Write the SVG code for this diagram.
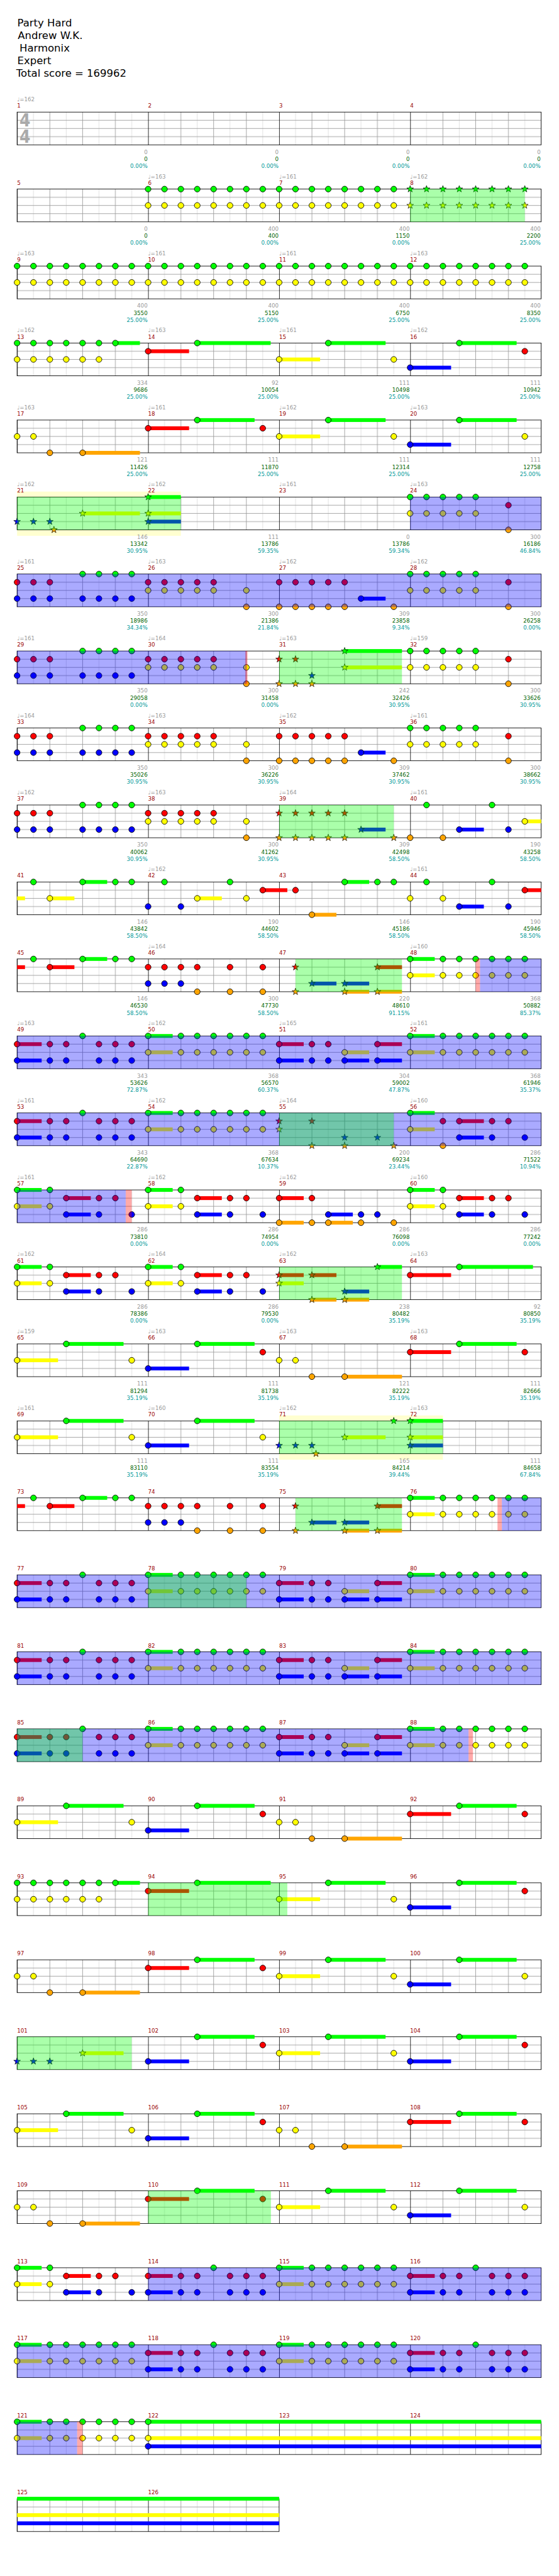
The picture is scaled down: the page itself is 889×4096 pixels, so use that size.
<svg xmlns="http://www.w3.org/2000/svg" width="889" height="4096" viewBox="0 0 889 4096">
<style>
text{font-family:"DejaVu Sans",sans-serif;font-size:10px}
.h{font-size:19px;fill:#000}
.t{fill:#999}
.n{fill:#900}
.a,.b,.c{text-anchor:end}
.a{fill:#999}.b{fill:#006400}.c{fill:#099}
.ts{font-family:"DejaVu Sans Condensed","DejaVu Sans",sans-serif;font-size:32px;font-weight:bold;fill:#aaa}
.sf{fill:url(#gd);stroke:#000}
.sG{fill:#0f0}.sR{fill:#f00}.sY{fill:#ff0}.sB{fill:#00f}.sO{fill:#ffa500}
.ob{fill:#00f;fill-opacity:.333}.og{fill:#0f0;fill-opacity:.333}.op{fill:#f00;fill-opacity:.333}.yb{fill:#ffffd0}
</style>
<defs>
<pattern id="gd" patternUnits="userSpaceOnUse" width="240" height="60">
<rect width="240" height="60" fill="#fff"/>
<path d="M30 0V60M90 0V60M150 0V60M210 0V60" stroke="#ddd"/>
<path d="M60 0V60M120 0V60M180 0V60M0 15H240M0 30H240M0 45H240" stroke="#999"/>
<path d="M.5 0V60" stroke="#000"/>
</pattern>
<circle id="n" r="5.3" stroke="#000"/>
<use id="G" href="#n" fill="#0f0"/>
<use id="R" href="#n" y="15" fill="#f00"/>
<use id="Y" href="#n" y="30" fill="#ff0"/>
<use id="B" href="#n" y="45" fill="#00f"/>
<use id="O" href="#n" y="60" fill="#ffa500"/>
<path id="s" d="M0-6.5 1.53-2.1 6.18-2.01 2.47.8 3.82 5.26 0 2.6-3.82 5.26-2.47.8-6.18-2.01-1.53-2.1Z" stroke="#000" stroke-width=".8"/>
<use id="g" href="#s" fill="#0f0"/>
<use id="r" href="#s" y="15" fill="#f00"/>
<use id="y" href="#s" y="30" fill="#ff0"/>
<use id="b" href="#s" y="45" fill="#00f"/>
<use id="o" href="#s" y="60" fill="#ffa500"/>
<g id="e3"><use href="#n"/><use href="#n" x="30"/><use href="#n" x="60"/></g>
<g id="e4"><use href="#e3"/><use href="#n" x="90"/></g>
<g id="e5"><use href="#e4"/><use href="#n" x="120"/></g>
<g id="e6"><use href="#e5"/><use href="#n" x="150"/></g>
<g id="e7"><use href="#e6"/><use href="#n" x="180"/></g>
<g id="e8"><use href="#e7"/><use href="#n" x="210"/></g>
<g id="s5"><use href="#s"/><use href="#s" x="30"/><use href="#s" x="60"/><use href="#s" x="90"/><use href="#s" x="120"/></g>
<g id="s8"><use href="#s5"/><use href="#s" x="150"/><use href="#s" x="180"/><use href="#s" x="210"/></g>
<g id="mA"><use href="#e3" y="15" fill="#f00"/><use href="#e3" y="45" fill="#00f"/><use href="#e4" x="120" fill="#0f0"/><use href="#e4" x="120" y="45" fill="#00f"/></g>
<g id="mB"><use href="#e5" y="15" fill="#f00"/><use href="#e5" y="30" fill="#ff0"/><use href="#Y" x="180"/><use href="#O" x="180"/></g>
<g id="mC"><use href="#e5" y="15" fill="#f00"/><use href="#e5" y="60" fill="#ffa500"/><rect class="sB" x="150" y="41.5" width="45" height="7"/><use href="#B" x="150"/><use href="#O" x="210"/></g>
<g id="mD"><use href="#e5" fill="#0f0"/><use href="#e5" y="30" fill="#ff0"/><use href="#R" x="180"/><use href="#O" x="180"/></g>
<g id="mE"><rect class="sR" y="11.5" width="45" height="7"/><rect class="sB" y="41.5" width="45" height="7"/><use href="#R"/><use href="#B"/><use href="#R" x="60"/><use href="#R" x="90"/><use href="#B" x="60"/><use href="#B" x="90"/><use href="#G" x="120"/><use href="#e3" x="150" y="15" fill="#f00"/><use href="#e3" x="150" y="45" fill="#00f"/></g>
<g id="mF"><rect class="sG" y="-3.5" width="45" height="7"/><rect class="sY" y="26.5" width="45" height="7"/><use href="#G"/><use href="#Y"/><use href="#e6" x="60" fill="#0f0"/><use href="#e6" x="60" y="30" fill="#ff0"/></g>
<g id="mG"><rect class="sG" y="-3.5" width="45" height="7"/><rect class="sY" y="26.5" width="45" height="7"/><rect class="sR" x="90" y="11.5" width="45" height="7"/><rect class="sB" x="90" y="41.5" width="45" height="7"/><use href="#G"/><use href="#G" x="60"/><use href="#Y"/><use href="#Y" x="60"/><use href="#R" x="90"/><use href="#R" x="150"/><use href="#R" x="180"/><use href="#B" x="90"/><use href="#B" x="150"/><use href="#B" x="210"/></g>
<g id="mH"><use href="#e8" fill="#0f0"/><use href="#e8" y="30" fill="#ff0"/></g>
<g id="mS"><use href="#s8" fill="#0f0"/><use href="#s8" y="30" fill="#ff0"/></g>
<g id="mI"><rect class="sY" y="26.5" width="75" height="7"/><use href="#Y"/><rect class="sG" x="90" y="-3.5" width="105" height="7"/><use href="#G" x="90"/><use href="#Y" x="210"/></g>
<g id="mJ"><rect class="sB" y="41.5" width="75" height="7"/><use href="#B"/><rect class="sG" x="90" y="-3.5" width="105" height="7"/><use href="#G" x="90"/></g>
<g id="q3">
<rect class="sG" x="180" y="-3.5" width="45" height="7"/><use href="#e7" fill="#0f0"/><use href="#e6" y="30" fill="#ff0"/>
<rect class="sR" x="240" y="11.5" width="75" height="7"/><use href="#R" x="240"/>
<rect class="sG" x="330" y="-3.5" width="134.5" height="7"/><use href="#G" x="330"/>
<use href="#mI" x="480"/><use href="#mJ" x="720"/><use href="#R" x="930"/>
</g>
<g id="q4">
<use href="#Y"/><use href="#Y" x="30"/><use href="#O" x="60"/>
<rect class="sO" x="120" y="56.5" width="105" height="7"/><use href="#O" x="120"/>
<rect class="sR" x="240" y="11.5" width="75" height="7"/><use href="#R" x="240"/>
<rect class="sG" x="330" y="-3.5" width="105" height="7"/><use href="#G" x="330"/><use href="#R" x="450"/>
<use href="#mI" x="480"/><use href="#mJ" x="720"/><use href="#Y" x="930"/>
</g>
<g id="q11">
<rect class="sR" y="11.5" width="14.5" height="7"/><use href="#G" x="30"/><rect class="sR" x="60" y="11.5" width="45" height="7"/><use href="#R" x="60"/><rect class="sG" x="120" y="-3.5" width="45" height="7"/><use href="#G" x="120"/><use href="#G" x="180"/><use href="#G" x="210"/>
<use href="#e4" x="240" y="15" fill="#f00"/><use href="#R" x="390"/><use href="#R" x="450"/><use href="#e3" x="240" y="45" fill="#00f"/><use href="#O" x="330"/><use href="#O" x="390"/><use href="#O" x="450"/>
<use href="#r" x="510"/><use href="#o" x="510"/><rect class="sB" x="540" y="41.5" width="45" height="7"/><use href="#b" x="540"/><rect class="sB" x="600" y="41.5" width="45" height="7"/><rect class="sO" x="600" y="56.5" width="45" height="7"/><use href="#b" x="600"/><use href="#o" x="600"/><rect class="sR" x="660" y="11.5" width="45" height="7"/><rect class="sO" x="660" y="56.5" width="45" height="7"/><use href="#r" x="660"/><use href="#o" x="660"/>
<use href="#mF" x="720"/>
</g>
<g id="q12">
<use href="#mE"/><use href="#mF" x="240"/>
<rect class="sR" x="480" y="11.5" width="45" height="7"/><rect class="sB" x="480" y="41.5" width="45" height="7"/><use href="#R" x="480"/><use href="#B" x="480"/><use href="#R" x="540"/><use href="#R" x="570"/><use href="#B" x="540"/><use href="#B" x="570"/><rect class="sY" x="600" y="26.5" width="45" height="7"/><rect class="sB" x="600" y="41.5" width="45" height="7"/><use href="#Y" x="600"/><use href="#B" x="600"/><rect class="sR" x="660" y="11.5" width="45" height="7"/><rect class="sB" x="660" y="41.5" width="45" height="7"/><use href="#R" x="660"/><use href="#B" x="660"/>
<use href="#mF" x="720"/>
</g>
<g id="q16">
<use href="#mI"/><use href="#mJ" x="240"/><use href="#R" x="450"/>
<use href="#Y" x="480"/><use href="#Y" x="510"/><use href="#O" x="540"/><rect class="sO" x="600" y="56.5" width="105" height="7"/><use href="#O" x="600"/>
<rect class="sR" x="720" y="11.5" width="75" height="7"/><use href="#R" x="720"/><rect class="sG" x="810" y="-3.5" width="105" height="7"/><use href="#G" x="810"/><use href="#R" x="930"/>
</g>
</defs>
<rect width="889" height="4096" fill="#fff"/>
<g transform="scale(.8682)">
<g id="title" class="h">
<text class="h" x="31.7" y="48">Party Hard</text>
<text class="h" x="32.5" y="71.7">Andrew W.K.</text>
<text class="h" x="35.7" y="95">Harmonix</text>
<text class="h" x="31.7" y="118">Expert</text>
<text class="h" x="29.7" y="140.7">Total score = 169962</text>
</g>

<g id="r0" transform="translate(31.3 205.3)">
<rect class="sf" width="960" height="60"/>
<text class="ts" x="4.4" y="26.7">4</text><text class="ts" x="4.4" y="56.7">4</text>
<text class="t" x="0" y="-19.6">♩=162</text>
<text class="n" y="-8"><tspan x="0">1</tspan><tspan x="240">2</tspan><tspan x="480">3</tspan><tspan x="720">4</tspan></text>
<text class="a" y="76.4"><tspan x="239">0</tspan><tspan x="479">0</tspan><tspan x="719">0</tspan><tspan x="959">0</tspan></text>
<text class="b" y="89.4"><tspan x="239">0</tspan><tspan x="479">0</tspan><tspan x="719">0</tspan><tspan x="959">0</tspan></text>
<text class="c" y="102.2"><tspan x="239">0.00%</tspan><tspan x="479">0.00%</tspan><tspan x="719">0.00%</tspan><tspan x="959">0.00%</tspan></text>
</g>

<g id="r1" transform="translate(31.3 346.3)">
<rect class="sf" width="960" height="60"/>
<use href="#mH" x="240"/><use href="#mH" x="480"/><use href="#mS" x="720"/>
<rect class="og" x="720" width="210" height="60"/>
<text class="t" y="-19.6"><tspan x="240">♩=163</tspan><tspan x="480">♩=161</tspan><tspan x="720">♩=162</tspan></text>
<text class="n" y="-8"><tspan x="0">5</tspan><tspan x="240">6</tspan><tspan x="480">7</tspan><tspan x="720">8</tspan></text>
<text class="a" y="76.4"><tspan x="239">0</tspan><tspan x="479">400</tspan><tspan x="719">400</tspan><tspan x="959">400</tspan></text>
<text class="b" y="89.4"><tspan x="239">0</tspan><tspan x="479">400</tspan><tspan x="719">1150</tspan><tspan x="959">2200</tspan></text>
<text class="c" y="102.2"><tspan x="239">0.00%</tspan><tspan x="479">0.00%</tspan><tspan x="719">0.00%</tspan><tspan x="959">25.00%</tspan></text>
</g>

<g id="r2" transform="translate(31.3 487.3)">
<rect class="sf" width="960" height="60"/>
<use href="#mH"/><use href="#mH" x="240"/><use href="#mH" x="480"/><use href="#mH" x="720"/>
<text class="t" y="-19.6"><tspan x="0">♩=163</tspan><tspan x="240">♩=161</tspan><tspan x="480">♩=161</tspan><tspan x="720">♩=163</tspan></text>
<text class="n" y="-8"><tspan x="0">9</tspan><tspan x="240">10</tspan><tspan x="480">11</tspan><tspan x="720">12</tspan></text>
<text class="a" y="76.4"><tspan x="239">400</tspan><tspan x="479">400</tspan><tspan x="719">400</tspan><tspan x="959">400</tspan></text>
<text class="b" y="89.4"><tspan x="239">3550</tspan><tspan x="479">5150</tspan><tspan x="719">6750</tspan><tspan x="959">8350</tspan></text>
<text class="c" y="102.2"><tspan x="239">25.00%</tspan><tspan x="479">25.00%</tspan><tspan x="719">25.00%</tspan><tspan x="959">25.00%</tspan></text>
</g>

<g id="r3" transform="translate(31.3 628.3)">
<rect class="sf" width="960" height="60"/>
<use href="#q3"/>
<text class="t" y="-19.6"><tspan x="0">♩=162</tspan><tspan x="240">♩=163</tspan><tspan x="480">♩=161</tspan><tspan x="720">♩=162</tspan></text>
<text class="n" y="-8"><tspan x="0">13</tspan><tspan x="240">14</tspan><tspan x="480">15</tspan><tspan x="720">16</tspan></text>
<text class="a" y="76.4"><tspan x="239">334</tspan><tspan x="479">92</tspan><tspan x="719">111</tspan><tspan x="959">111</tspan></text>
<text class="b" y="89.4"><tspan x="239">9686</tspan><tspan x="479">10054</tspan><tspan x="719">10498</tspan><tspan x="959">10942</tspan></text>
<text class="c" y="102.2"><tspan x="239">25.00%</tspan><tspan x="479">25.00%</tspan><tspan x="719">25.00%</tspan><tspan x="959">25.00%</tspan></text>
</g>

<g id="r4" transform="translate(31.3 769.3)">
<rect class="sf" width="960" height="60"/>
<use href="#q4"/>
<text class="t" y="-19.6"><tspan x="0">♩=163</tspan><tspan x="240">♩=161</tspan><tspan x="480">♩=162</tspan><tspan x="720">♩=163</tspan></text>
<text class="n" y="-8"><tspan x="0">17</tspan><tspan x="240">18</tspan><tspan x="480">19</tspan><tspan x="720">20</tspan></text>
<text class="a" y="76.4"><tspan x="239">121</tspan><tspan x="479">111</tspan><tspan x="719">111</tspan><tspan x="959">111</tspan></text>
<text class="b" y="89.4"><tspan x="239">11426</tspan><tspan x="479">11870</tspan><tspan x="719">12314</tspan><tspan x="959">12758</tspan></text>
<text class="c" y="102.2"><tspan x="239">25.00%</tspan><tspan x="479">25.00%</tspan><tspan x="719">25.00%</tspan><tspan x="959">25.00%</tspan></text>
</g>

<g id="r5" transform="translate(31.3 910.3)">
<rect class="yb" y="-10" width="300" height="81"/>
<rect class="sf" width="960" height="60"/>
<use href="#b"/><use href="#b" x="30"/><use href="#b" x="60"/><use href="#o" x="67.5"/>
<rect class="sY" x="120" y="26.5" width="105" height="7"/><use href="#y" x="120"/>
<rect class="sG" x="240" y="-3.5" width="60" height="7"/><rect class="sY" x="240" y="26.5" width="60" height="7"/><rect class="sB" x="240" y="41.5" width="60" height="7"/><use href="#g" x="240"/><use href="#y" x="240"/><use href="#b" x="240"/>
<use href="#mD" x="720"/>
<rect class="og" width="300" height="60"/><rect class="ob" x="720" width="240" height="60"/>
<text class="t" y="-19.6"><tspan x="0">♩=162</tspan><tspan x="240">♩=162</tspan><tspan x="480">♩=161</tspan><tspan x="720">♩=163</tspan></text>
<text class="n" y="-8"><tspan x="0">21</tspan><tspan x="240">22</tspan><tspan x="480">23</tspan><tspan x="720">24</tspan></text>
<text class="a" y="76.4"><tspan x="239">146</tspan><tspan x="479">111</tspan><tspan x="719">0</tspan><tspan x="959">300</tspan></text>
<text class="b" y="89.4"><tspan x="239">13342</tspan><tspan x="479">13786</tspan><tspan x="719">13786</tspan><tspan x="959">16186</tspan></text>
<text class="c" y="102.2"><tspan x="239">30.95%</tspan><tspan x="479">59.35%</tspan><tspan x="719">59.34%</tspan><tspan x="959">46.84%</tspan></text>
</g>

<g id="r6" transform="translate(31.3 1051.3)">
<rect class="sf" width="960" height="60"/>
<use href="#mA"/><use href="#mB" x="240"/><use href="#mC" x="480"/><use href="#mD" x="720"/>
<rect class="ob" width="960" height="60"/>
<text class="t" y="-19.6"><tspan x="0">♩=161</tspan><tspan x="240">♩=163</tspan><tspan x="480">♩=162</tspan><tspan x="720">♩=162</tspan></text>
<text class="n" y="-8"><tspan x="0">25</tspan><tspan x="240">26</tspan><tspan x="480">27</tspan><tspan x="720">28</tspan></text>
<text class="a" y="76.4"><tspan x="239">350</tspan><tspan x="479">300</tspan><tspan x="719">309</tspan><tspan x="959">300</tspan></text>
<text class="b" y="89.4"><tspan x="239">18986</tspan><tspan x="479">21386</tspan><tspan x="719">23858</tspan><tspan x="959">26258</tspan></text>
<text class="c" y="102.2"><tspan x="239">34.34%</tspan><tspan x="479">21.84%</tspan><tspan x="719">9.34%</tspan><tspan x="959">0.00%</tspan></text>
</g>

<g id="r7" transform="translate(31.3 1192.3)">
<rect class="sf" width="960" height="60"/>
<use href="#mA"/><use href="#mB" x="240"/>
<use href="#r" x="480"/><use href="#r" x="510"/><use href="#o" x="480"/><use href="#o" x="510"/><use href="#o" x="540"/><use href="#b" x="540"/>
<rect class="sG" x="600" y="-3.5" width="105" height="7"/><rect class="sY" x="600" y="26.5" width="105" height="7"/><use href="#g" x="600"/><use href="#y" x="600"/>
<use href="#mD" x="720"/>
<rect class="ob" width="420" height="60"/><rect class="op" x="418" width="4" height="60"/><rect class="og" x="480" width="225" height="60"/>
<text class="t" y="-19.6"><tspan x="0">♩=161</tspan><tspan x="240">♩=164</tspan><tspan x="480">♩=163</tspan><tspan x="720">♩=159</tspan></text>
<text class="n" y="-8"><tspan x="0">29</tspan><tspan x="240">30</tspan><tspan x="480">31</tspan><tspan x="720">32</tspan></text>
<text class="a" y="76.4"><tspan x="239">350</tspan><tspan x="479">300</tspan><tspan x="719">242</tspan><tspan x="959">300</tspan></text>
<text class="b" y="89.4"><tspan x="239">29058</tspan><tspan x="479">31458</tspan><tspan x="719">32426</tspan><tspan x="959">33626</tspan></text>
<text class="c" y="102.2"><tspan x="239">0.00%</tspan><tspan x="479">0.00%</tspan><tspan x="719">30.95%</tspan><tspan x="959">30.95%</tspan></text>
</g>

<g id="r8" transform="translate(31.3 1333.3)">
<rect class="sf" width="960" height="60"/>
<use href="#mA"/><use href="#mB" x="240"/><use href="#mC" x="480"/><use href="#mD" x="720"/>
<text class="t" y="-19.6"><tspan x="0">♩=164</tspan><tspan x="240">♩=163</tspan><tspan x="480">♩=162</tspan><tspan x="720">♩=161</tspan></text>
<text class="n" y="-8"><tspan x="0">33</tspan><tspan x="240">34</tspan><tspan x="480">35</tspan><tspan x="720">36</tspan></text>
<text class="a" y="76.4"><tspan x="239">350</tspan><tspan x="479">300</tspan><tspan x="719">309</tspan><tspan x="959">300</tspan></text>
<text class="b" y="89.4"><tspan x="239">35026</tspan><tspan x="479">36226</tspan><tspan x="719">37462</tspan><tspan x="959">38662</tspan></text>
<text class="c" y="102.2"><tspan x="239">30.95%</tspan><tspan x="479">30.95%</tspan><tspan x="719">30.95%</tspan><tspan x="959">30.95%</tspan></text>
</g>

<g id="r9" transform="translate(31.3 1474.3)">
<rect class="sf" width="960" height="60"/>
<use href="#mA"/><use href="#mB" x="240"/>
<use href="#s5" x="480" y="15" fill="#f00"/><use href="#s5" x="480" y="60" fill="#ffa500"/><rect class="sB" x="630" y="41.5" width="45" height="7"/><use href="#b" x="630"/><use href="#o" x="690"/>
<use href="#O" x="720"/><use href="#O" x="780"/><use href="#G" x="750"/><use href="#G" x="870"/><rect class="sB" x="810" y="41.5" width="45" height="7"/><use href="#B" x="810"/><use href="#B" x="900"/><rect class="sY" x="930" y="26.5" width="30" height="7"/><use href="#Y" x="930"/>
<rect class="og" x="480" width="210" height="60"/>
<text class="t" y="-19.6"><tspan x="0">♩=162</tspan><tspan x="240">♩=163</tspan><tspan x="480">♩=164</tspan><tspan x="720">♩=161</tspan></text>
<text class="n" y="-8"><tspan x="0">37</tspan><tspan x="240">38</tspan><tspan x="480">39</tspan><tspan x="720">40</tspan></text>
<text class="a" y="76.4"><tspan x="239">350</tspan><tspan x="479">300</tspan><tspan x="719">309</tspan><tspan x="959">190</tspan></text>
<text class="b" y="89.4"><tspan x="239">40062</tspan><tspan x="479">41262</tspan><tspan x="719">42498</tspan><tspan x="959">43258</tspan></text>
<text class="c" y="102.2"><tspan x="239">30.95%</tspan><tspan x="479">30.95%</tspan><tspan x="719">58.50%</tspan><tspan x="959">58.50%</tspan></text>
</g>

<g id="r10" transform="translate(31.3 1615.3)">
<rect class="sf" width="960" height="60"/>
<rect class="sY" y="26.5" width="14.5" height="7"/><use href="#G" x="30"/><rect class="sY" x="60" y="26.5" width="45" height="7"/><use href="#Y" x="60"/><rect class="sG" x="120" y="-3.5" width="45" height="7"/><use href="#G" x="120"/><use href="#G" x="180"/><use href="#G" x="210"/>
<use href="#B" x="240"/><use href="#B" x="300"/><use href="#G" x="270"/><rect class="sY" x="330" y="26.5" width="45" height="7"/><use href="#Y" x="330"/><use href="#G" x="390"/><use href="#Y" x="420"/><rect class="sR" x="450" y="11.5" width="45" height="7"/><use href="#R" x="450"/>
<use href="#R" x="510"/><rect class="sO" x="540" y="56.5" width="45" height="7"/><use href="#O" x="540"/><rect class="sG" x="600" y="-3.5" width="45" height="7"/><use href="#G" x="600"/><use href="#G" x="660"/><use href="#G" x="690"/>
<use href="#Y" x="720"/><use href="#Y" x="780"/><use href="#G" x="750"/><use href="#G" x="870"/><rect class="sB" x="810" y="41.5" width="45" height="7"/><use href="#B" x="810"/><use href="#B" x="900"/><rect class="sR" x="930" y="11.5" width="30" height="7"/><use href="#R" x="930"/>
<text class="t" y="-19.6"><tspan x="240">♩=162</tspan><tspan x="720">♩=161</tspan></text>
<text class="n" y="-8"><tspan x="0">41</tspan><tspan x="240">42</tspan><tspan x="480">43</tspan><tspan x="720">44</tspan></text>
<text class="a" y="76.4"><tspan x="239">146</tspan><tspan x="479">190</tspan><tspan x="719">146</tspan><tspan x="959">190</tspan></text>
<text class="b" y="89.4"><tspan x="239">43842</tspan><tspan x="479">44602</tspan><tspan x="719">45186</tspan><tspan x="959">45946</tspan></text>
<text class="c" y="102.2"><tspan x="239">58.50%</tspan><tspan x="479">58.50%</tspan><tspan x="719">58.50%</tspan><tspan x="959">58.50%</tspan></text>
</g>

<g id="r11" transform="translate(31.3 1756.3)">
<rect class="sf" width="960" height="60"/>
<use href="#q11"/>
<rect class="og" x="510" width="195" height="60"/><rect class="op" x="840" width="8" height="60"/><rect class="ob" x="848" width="112" height="60"/>
<text class="t" y="-19.6"><tspan x="240">♩=164</tspan><tspan x="720">♩=160</tspan></text>
<text class="n" y="-8"><tspan x="0">45</tspan><tspan x="240">46</tspan><tspan x="480">47</tspan><tspan x="720">48</tspan></text>
<text class="a" y="76.4"><tspan x="239">146</tspan><tspan x="479">300</tspan><tspan x="719">220</tspan><tspan x="959">368</tspan></text>
<text class="b" y="89.4"><tspan x="239">46530</tspan><tspan x="479">47730</tspan><tspan x="719">48610</tspan><tspan x="959">50882</tspan></text>
<text class="c" y="102.2"><tspan x="239">58.50%</tspan><tspan x="479">58.50%</tspan><tspan x="719">91.15%</tspan><tspan x="959">85.37%</tspan></text>
</g>

<g id="r12" transform="translate(31.3 1897.3)">
<rect class="sf" width="960" height="60"/>
<use href="#q12"/>
<rect class="ob" width="960" height="60"/>
<text class="t" y="-19.6"><tspan x="0">♩=163</tspan><tspan x="240">♩=162</tspan><tspan x="480">♩=165</tspan><tspan x="720">♩=161</tspan></text>
<text class="n" y="-8"><tspan x="0">49</tspan><tspan x="240">50</tspan><tspan x="480">51</tspan><tspan x="720">52</tspan></text>
<text class="a" y="76.4"><tspan x="239">343</tspan><tspan x="479">368</tspan><tspan x="719">304</tspan><tspan x="959">368</tspan></text>
<text class="b" y="89.4"><tspan x="239">53626</tspan><tspan x="479">56570</tspan><tspan x="719">59002</tspan><tspan x="959">61946</tspan></text>
<text class="c" y="102.2"><tspan x="239">72.87%</tspan><tspan x="479">60.37%</tspan><tspan x="719">47.87%</tspan><tspan x="959">35.37%</tspan></text>
</g>

<g id="r13" transform="translate(31.3 2038.3)">
<rect class="sf" width="960" height="60"/>
<use href="#mE"/><use href="#mF" x="240"/>
<use href="#r" x="480"/><use href="#r" x="540"/><use href="#y" x="480"/><use href="#b" x="600"/><use href="#b" x="660"/><use href="#o" x="540"/><use href="#o" x="600"/><use href="#o" x="690"/>
<rect class="sG" x="720" y="-3.5" width="45" height="7"/><rect class="sY" x="720" y="26.5" width="45" height="7"/><use href="#G" x="720"/><use href="#Y" x="720"/><use href="#R" x="780"/><rect class="sR" x="810" y="11.5" width="45" height="7"/><rect class="sB" x="810" y="41.5" width="45" height="7"/><use href="#R" x="810"/><use href="#B" x="810"/><use href="#R" x="870"/><use href="#R" x="900"/><use href="#B" x="870"/><use href="#B" x="930"/><use href="#O" x="780"/>
<rect class="ob" width="960" height="60"/><rect class="og" x="480" width="210" height="60"/>
<text class="t" y="-19.6"><tspan x="0">♩=161</tspan><tspan x="240">♩=162</tspan><tspan x="480">♩=164</tspan><tspan x="720">♩=160</tspan></text>
<text class="n" y="-8"><tspan x="0">53</tspan><tspan x="240">54</tspan><tspan x="480">55</tspan><tspan x="720">56</tspan></text>
<text class="a" y="76.4"><tspan x="239">343</tspan><tspan x="479">368</tspan><tspan x="719">200</tspan><tspan x="959">286</tspan></text>
<text class="b" y="89.4"><tspan x="239">64690</tspan><tspan x="479">67634</tspan><tspan x="719">69234</tspan><tspan x="959">71522</tspan></text>
<text class="c" y="102.2"><tspan x="239">22.87%</tspan><tspan x="479">10.37%</tspan><tspan x="719">23.44%</tspan><tspan x="959">10.94%</tspan></text>
</g>

<g id="r14" transform="translate(31.3 2179.3)">
<rect class="sf" width="960" height="60"/>
<use href="#mG"/><use href="#mG" x="240"/>
<rect class="sR" x="480" y="11.5" width="45" height="7"/><rect class="sO" x="480" y="56.5" width="45" height="7"/><use href="#R" x="480"/><use href="#O" x="480"/><use href="#R" x="540"/><use href="#O" x="540"/><rect class="sB" x="570" y="41.5" width="45" height="7"/><rect class="sO" x="570" y="56.5" width="45" height="7"/><use href="#B" x="570"/><use href="#O" x="570"/><use href="#B" x="630"/><use href="#B" x="660"/><use href="#O" x="630"/><use href="#O" x="690"/>
<use href="#mG" x="720"/>
<rect class="ob" width="199" height="60"/><rect class="op" x="199" width="11" height="60"/>
<text class="t" y="-19.6"><tspan x="0">♩=161</tspan><tspan x="240">♩=162</tspan><tspan x="480">♩=162</tspan><tspan x="720">♩=160</tspan></text>
<text class="n" y="-8"><tspan x="0">57</tspan><tspan x="240">58</tspan><tspan x="480">59</tspan><tspan x="720">60</tspan></text>
<text class="a" y="76.4"><tspan x="239">286</tspan><tspan x="479">286</tspan><tspan x="719">286</tspan><tspan x="959">286</tspan></text>
<text class="b" y="89.4"><tspan x="239">73810</tspan><tspan x="479">74954</tspan><tspan x="719">76098</tspan><tspan x="959">77242</tspan></text>
<text class="c" y="102.2"><tspan x="239">0.00%</tspan><tspan x="479">0.00%</tspan><tspan x="719">0.00%</tspan><tspan x="959">0.00%</tspan></text>
</g>

<g id="r15" transform="translate(31.3 2320.3)">
<rect class="sf" width="960" height="60"/>
<use href="#mG"/><use href="#mG" x="240"/>
<rect class="sR" x="480" y="11.5" width="45" height="7"/><rect class="sY" x="480" y="26.5" width="45" height="7"/><use href="#r" x="480"/><use href="#y" x="480"/><rect class="sR" x="540" y="11.5" width="45" height="7"/><rect class="sO" x="540" y="56.5" width="45" height="7"/><use href="#r" x="540"/><use href="#o" x="540"/><rect class="sB" x="600" y="41.5" width="45" height="7"/><rect class="sO" x="600" y="56.5" width="45" height="7"/><use href="#b" x="600"/><use href="#o" x="600"/><rect class="sG" x="660" y="-3.5" width="45" height="7"/><use href="#g" x="660"/>
<rect class="sR" x="720" y="11.5" width="75" height="7"/><use href="#R" x="720"/><rect class="sG" x="810" y="-3.5" width="135" height="7"/><use href="#G" x="810"/>
<rect class="og" x="480" width="225" height="60"/>
<text class="t" y="-19.6"><tspan x="0">♩=162</tspan><tspan x="240">♩=164</tspan><tspan x="480">♩=162</tspan><tspan x="720">♩=163</tspan></text>
<text class="n" y="-8"><tspan x="0">61</tspan><tspan x="240">62</tspan><tspan x="480">63</tspan><tspan x="720">64</tspan></text>
<text class="a" y="76.4"><tspan x="239">286</tspan><tspan x="479">286</tspan><tspan x="719">238</tspan><tspan x="959">92</tspan></text>
<text class="b" y="89.4"><tspan x="239">78386</tspan><tspan x="479">79530</tspan><tspan x="719">80482</tspan><tspan x="959">80850</tspan></text>
<text class="c" y="102.2"><tspan x="239">0.00%</tspan><tspan x="479">0.00%</tspan><tspan x="719">35.19%</tspan><tspan x="959">35.19%</tspan></text>
</g>

<g id="r16" transform="translate(31.3 2461.3)">
<rect class="sf" width="960" height="60"/>
<use href="#q16"/>
<text class="t" y="-19.6"><tspan x="0">♩=159</tspan><tspan x="240">♩=163</tspan><tspan x="480">♩=163</tspan><tspan x="720">♩=163</tspan></text>
<text class="n" y="-8"><tspan x="0">65</tspan><tspan x="240">66</tspan><tspan x="480">67</tspan><tspan x="720">68</tspan></text>
<text class="a" y="76.4"><tspan x="239">111</tspan><tspan x="479">111</tspan><tspan x="719">121</tspan><tspan x="959">111</tspan></text>
<text class="b" y="89.4"><tspan x="239">81294</tspan><tspan x="479">81738</tspan><tspan x="719">82222</tspan><tspan x="959">82666</tspan></text>
<text class="c" y="102.2"><tspan x="239">35.19%</tspan><tspan x="479">35.19%</tspan><tspan x="719">35.19%</tspan><tspan x="959">35.19%</tspan></text>
</g>

<g id="r17" transform="translate(31.3 2602.3)">
<rect class="yb" x="480" y="-10" width="300" height="81"/>
<rect class="sf" width="960" height="60"/>
<use href="#mI"/><use href="#mJ" x="240"/><use href="#Y" x="450"/>
<use href="#b" x="480"/><use href="#b" x="510"/><use href="#b" x="540"/><use href="#o" x="547.5"/><rect class="sY" x="600" y="26.5" width="75" height="7"/><use href="#y" x="600"/><use href="#g" x="690"/>
<rect class="sG" x="720" y="-3.5" width="60" height="7"/><rect class="sY" x="720" y="26.5" width="60" height="7"/><rect class="sB" x="720" y="41.5" width="60" height="7"/><use href="#g" x="720"/><use href="#y" x="720"/><use href="#b" x="720"/>
<rect class="og" x="480" width="300" height="60"/>
<text class="t" y="-19.6"><tspan x="0">♩=161</tspan><tspan x="240">♩=160</tspan><tspan x="480">♩=162</tspan><tspan x="720">♩=163</tspan></text>
<text class="n" y="-8"><tspan x="0">69</tspan><tspan x="240">70</tspan><tspan x="480">71</tspan><tspan x="720">72</tspan></text>
<text class="a" y="76.4"><tspan x="239">111</tspan><tspan x="479">111</tspan><tspan x="719">165</tspan><tspan x="959">111</tspan></text>
<text class="b" y="89.4"><tspan x="239">83110</tspan><tspan x="479">83554</tspan><tspan x="719">84214</tspan><tspan x="959">84658</tspan></text>
<text class="c" y="102.2"><tspan x="239">35.19%</tspan><tspan x="479">35.19%</tspan><tspan x="719">39.44%</tspan><tspan x="959">67.84%</tspan></text>
</g>

<g id="r18" transform="translate(31.3 2743.3)"><rect class="sf" width="960" height="60"/>
<use href="#q11"/>
<rect class="og" x="510" width="195" height="60"/><rect class="op" x="880" width="8" height="60"/><rect class="ob" x="888" width="72" height="60"/>
<text class="n" y="-8"><tspan x="0">73</tspan><tspan x="240">74</tspan><tspan x="480">75</tspan><tspan x="720">76</tspan></text></g>
<g id="r19" transform="translate(31.3 2884.3)"><rect class="sf" width="960" height="60"/>
<use href="#q12"/>
<rect class="ob" width="960" height="60"/><rect class="og" x="240" width="180" height="60"/>
<text class="n" y="-8"><tspan x="0">77</tspan><tspan x="240">78</tspan><tspan x="480">79</tspan><tspan x="720">80</tspan></text></g>
<g id="r20" transform="translate(31.3 3025.3)"><rect class="sf" width="960" height="60"/>
<use href="#q12"/>
<rect class="ob" width="960" height="60"/>
<text class="n" y="-8"><tspan x="0">81</tspan><tspan x="240">82</tspan><tspan x="480">83</tspan><tspan x="720">84</tspan></text></g>
<g id="r21" transform="translate(31.3 3166.3)"><rect class="sf" width="960" height="60"/>
<use href="#q12"/>
<rect class="ob" width="827" height="60"/><rect class="og" width="120" height="60"/><rect class="op" x="827" width="8" height="60"/>
<text class="n" y="-8"><tspan x="0">85</tspan><tspan x="240">86</tspan><tspan x="480">87</tspan><tspan x="720">88</tspan></text></g>
<g id="r22" transform="translate(31.3 3307.3)"><rect class="sf" width="960" height="60"/>
<use href="#q16"/>
<text class="n" y="-8"><tspan x="0">89</tspan><tspan x="240">90</tspan><tspan x="480">91</tspan><tspan x="720">92</tspan></text></g>
<g id="r23" transform="translate(31.3 3448.3)"><rect class="sf" width="960" height="60"/>
<use href="#q3"/>
<rect class="og" x="240" width="255" height="60"/>
<text class="n" y="-8"><tspan x="0">93</tspan><tspan x="240">94</tspan><tspan x="480">95</tspan><tspan x="720">96</tspan></text></g>
<g id="r24" transform="translate(31.3 3589.3)"><rect class="sf" width="960" height="60"/>
<use href="#q4"/>
<text class="n" y="-8"><tspan x="0">97</tspan><tspan x="240">98</tspan><tspan x="480">99</tspan><tspan x="720">100</tspan></text></g>
<g id="r25" transform="translate(31.3 3730.3)"><rect class="sf" width="960" height="60"/>
<use href="#b"/><use href="#b" x="30"/><use href="#b" x="60"/><rect class="sY" x="120" y="26.5" width="75" height="7"/><use href="#y" x="120"/>
<use href="#mJ" x="240"/><use href="#R" x="450"/><use href="#mI" x="480"/><use href="#mJ" x="720"/><use href="#R" x="930"/>
<rect class="og" width="210" height="60"/>
<text class="n" y="-8"><tspan x="0">101</tspan><tspan x="240">102</tspan><tspan x="480">103</tspan><tspan x="720">104</tspan></text></g>
<g id="r26" transform="translate(31.3 3871.3)"><rect class="sf" width="960" height="60"/>
<use href="#q16"/>
<text class="n" y="-8"><tspan x="0">105</tspan><tspan x="240">106</tspan><tspan x="480">107</tspan><tspan x="720">108</tspan></text></g>
<g id="r27" transform="translate(31.3 4012.3)"><rect class="sf" width="960" height="60"/>
<use href="#q4"/>
<rect class="og" x="240" width="225" height="60"/>
<text class="n" y="-8"><tspan x="0">109</tspan><tspan x="240">110</tspan><tspan x="480">111</tspan><tspan x="720">112</tspan></text></g>
<g id="r28" transform="translate(31.3 4153.3)"><rect class="sf" width="960" height="60"/>
<use href="#mG"/><use href="#mE" x="240"/><use href="#mF" x="480"/><use href="#mE" x="720"/>
<rect class="ob" x="240" width="720" height="60"/>
<text class="n" y="-8"><tspan x="0">113</tspan><tspan x="240">114</tspan><tspan x="480">115</tspan><tspan x="720">116</tspan></text></g>
<g id="r29" transform="translate(31.3 4294.3)"><rect class="sf" width="960" height="60"/>
<use href="#mF"/><use href="#mE" x="240"/><use href="#mF" x="480"/><use href="#mE" x="720"/>
<rect class="ob" width="960" height="60"/>
<text class="n" y="-8"><tspan x="0">117</tspan><tspan x="240">118</tspan><tspan x="480">119</tspan><tspan x="720">120</tspan></text></g>
<g id="r30" transform="translate(31.3 4435.3)"><rect class="sf" width="960" height="60"/>
<use href="#mF"/>
<rect class="sG" x="240" y="-3.5" width="720" height="7"/><rect class="sY" x="240" y="26.5" width="720" height="7"/><rect class="sB" x="240" y="41.5" width="720" height="7"/><use href="#G" x="240"/><use href="#Y" x="240"/><use href="#B" x="240"/>
<rect class="ob" width="110" height="60"/><rect class="op" x="110" width="10" height="60"/>
<text class="n" y="-8"><tspan x="0">121</tspan><tspan x="240">122</tspan><tspan x="480">123</tspan><tspan x="720">124</tspan></text></g>
<g id="r31" transform="translate(31.3 4576.3)"><rect class="sf" width="480" height="60"/>
<rect class="sG" y="-3.5" width="480" height="7"/><rect class="sY" y="26.5" width="480" height="7"/><rect class="sB" y="41.5" width="480" height="7"/>
<text class="n" y="-8"><tspan x="0">125</tspan><tspan x="240">126</tspan></text></g>
</g>
</svg>
